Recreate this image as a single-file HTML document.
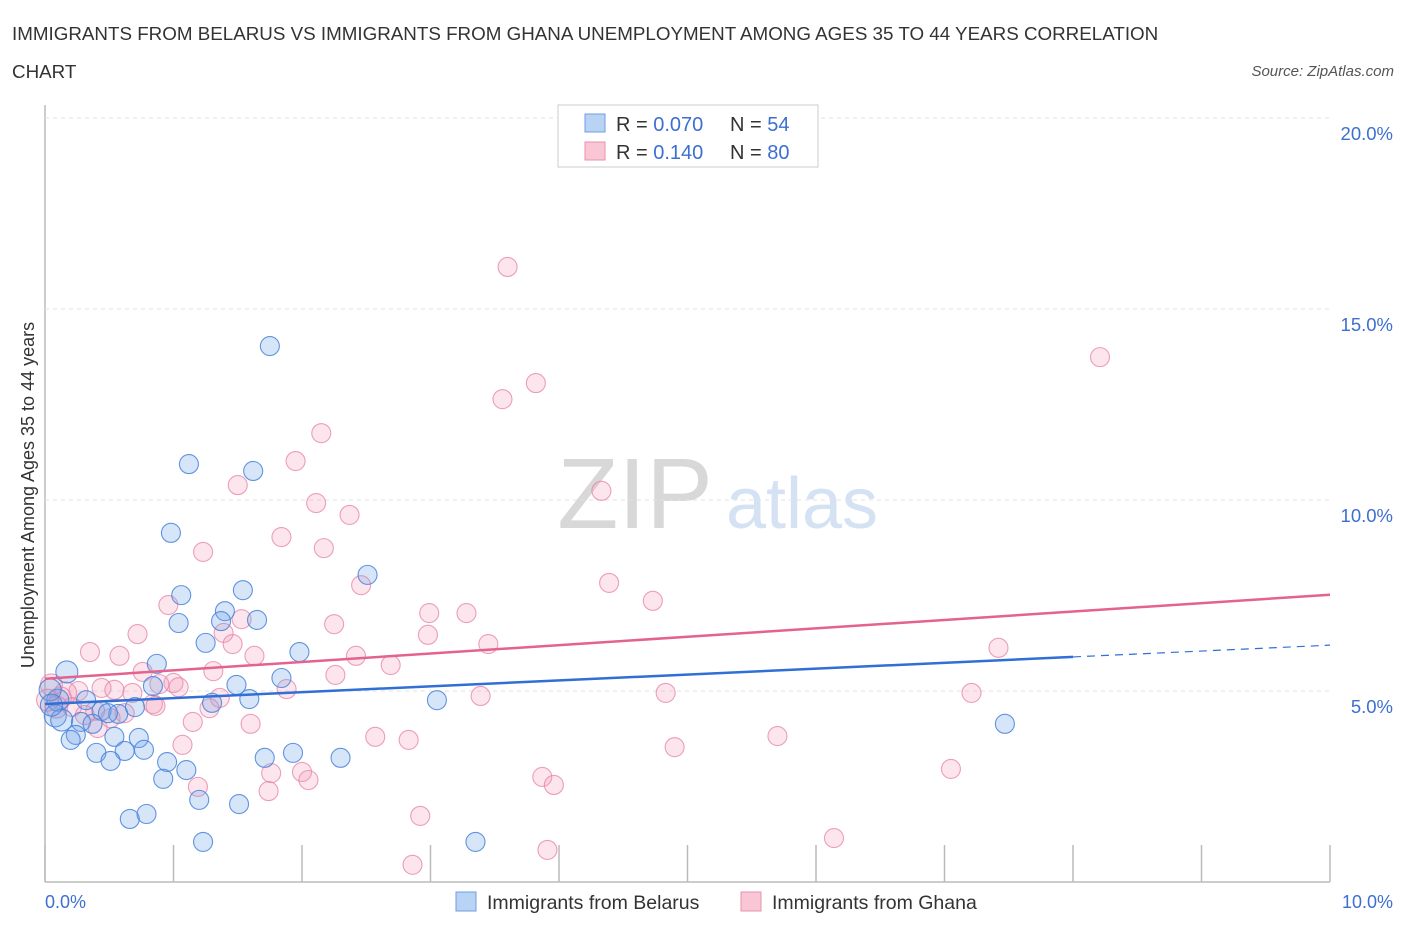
<!DOCTYPE html>
<html><head><meta charset="utf-8"><style>
body{margin:0;background:#fff;font-family:"Liberation Sans",sans-serif;}
svg text{font-family:"Liberation Sans",sans-serif;}
</style></head><body>
<svg id="chart" width="1406" height="930">
<text x="12" y="40" font-size="18.8" fill="#333">IMMIGRANTS FROM BELARUS VS IMMIGRANTS FROM GHANA UNEMPLOYMENT AMONG AGES 35 TO 44 YEARS CORRELATION</text>
<text x="12" y="78" font-size="18.8" fill="#333">CHART</text>
<text x="1394" y="76" font-size="15" fill="#555" font-style="italic" text-anchor="end">Source: ZipAtlas.com</text>
<text x="635" y="528" font-size="100" fill="#d8d8d8" font-family="Liberation Serif" text-anchor="middle">ZIP</text>
<text x="802" y="528" font-size="72" fill="#d5e2f3" text-anchor="middle">atlas</text>
<g id="grid"></g>
<g id="marks"></g>
<g id="lines"></g>
<text transform="translate(34,495) rotate(-90)" font-size="18" fill="#333" text-anchor="middle">Unemployment Among Ages 35 to 44 years</text>
<text x="45" y="908" font-size="18" fill="#3d6fd1">0.0%</text>
<text x="1393" y="908" font-size="18" fill="#3d6fd1" text-anchor="end">10.0%</text>
<g>
<rect x="558" y="105" width="260" height="62" fill="#fff" stroke="#ccc"/>
<rect x="585" y="114" width="20" height="18" fill="#b9d3f5" stroke="#6f9de0"/>
<rect x="585" y="142" width="20" height="18" fill="#f9c6d6" stroke="#e891ac"/>
<text x="616" y="131" font-size="20" fill="#333">R = <tspan fill="#3d6fd1">0.070</tspan><tspan x="730">N = </tspan><tspan fill="#3d6fd1">54</tspan></text>
<text x="616" y="159" font-size="20" fill="#333">R = <tspan fill="#3d6fd1"> 0.140</tspan><tspan x="730">N = </tspan><tspan fill="#3d6fd1">80</tspan></text>
</g>
<g>
<rect x="456" y="892" width="20" height="19" fill="#b9d3f5" stroke="#6f9de0"/>
<text x="487" y="909" font-size="19.5" fill="#333">Immigrants from Belarus</text>
<rect x="741" y="892" width="20" height="19" fill="#f9c6d6" stroke="#e891ac"/>
<text x="772" y="909" font-size="19.5" fill="#333">Immigrants from Ghana</text>
</g>
</svg>
<script>
const yTicks=[5,10,15,20];
const yTickLabels=["5.0%","10.0%","15.0%","20.0%"];
const xTicks=[0,1,2,3,4,5,6,7,8,9,10];
const belarusX=[1.75,1.12,1.62,0.98,2.51,1.06,1.54,1.40,1.04,1.37,1.65,1.25,1.98,0.87,0.17,0.84,1.84,1.49,1.30,1.59,3.05,0.32,0.44,0.57,0.49,0.70,0.10,0.08,0.13,0.28,0.37,0.24,0.20,0.54,0.73,0.40,0.62,0.77,0.51,0.95,1.10,1.71,1.93,2.30,0.92,1.20,1.51,0.66,0.79,1.23,3.35,7.47,0.04,0.05];
const belarusY=[14.03,10.94,10.76,9.14,8.04,7.51,7.64,7.09,6.78,6.83,6.86,6.26,6.02,5.71,5.50,5.13,5.34,5.16,4.69,4.79,4.76,4.76,4.48,4.40,4.42,4.58,4.76,4.35,4.24,4.19,4.14,3.85,3.72,3.80,3.77,3.38,3.43,3.46,3.17,3.14,2.93,3.25,3.38,3.25,2.70,2.15,2.04,1.65,1.78,1.05,1.05,4.14,5.03,4.63];
const ghanaX=[3.60,8.21,3.82,3.56,2.15,1.95,1.50,4.33,2.11,2.37,1.23,1.84,2.17,2.46,4.39,0.96,4.73,2.99,3.28,1.53,0.72,1.39,2.25,2.98,3.45,1.46,0.35,0.58,1.63,2.42,1.31,0.76,2.69,2.26,1.00,1.04,0.89,0.44,0.26,0.54,0.68,1.88,1.36,3.39,4.83,7.21,7.42,0.84,0.86,0.16,0.21,0.12,0.39,0.62,1.15,1.60,1.28,0.41,2.57,2.83,1.07,4.90,5.70,1.76,2.00,2.05,1.19,1.74,3.87,3.96,7.05,2.92,6.14,2.86,3.91,0.05,0.09,0.02,0.31,0.51];
const ghanaY=[16.10,13.74,13.06,12.64,11.75,11.02,10.39,10.24,9.92,9.61,8.64,9.03,8.74,7.77,7.83,7.25,7.36,7.04,7.04,6.88,6.49,6.52,6.75,6.47,6.23,6.23,6.02,5.92,5.92,5.92,5.52,5.50,5.68,5.42,5.21,5.10,5.18,5.08,5.00,5.03,4.95,5.05,4.82,4.87,4.95,4.95,6.13,4.66,4.61,4.95,4.58,4.82,4.48,4.42,4.19,4.14,4.55,4.03,3.80,3.72,3.59,3.53,3.82,2.85,2.88,2.67,2.49,2.38,2.75,2.54,2.96,1.73,1.15,0.45,0.84,5.16,4.58,4.76,4.37,4.29];
const belarusTrend=[4.66,6.20];
const ghanaTrend=[5.32,7.52];
const X=v=>45+v*128.5, Y=v=>882-v*38.2;
const NS="http://www.w3.org/2000/svg";
function mk(tag,attrs,parent){const e=document.createElementNS(NS,tag);for(const k in attrs)e.setAttribute(k,attrs[k]);parent.appendChild(e);return e;}
const grid=document.getElementById('grid'),marks=document.getElementById('marks'),lines=document.getElementById('lines');
let ax=mk('line',{x1:45,y1:105,x2:45,y2:882,stroke:'#bbb','stroke-width':1.5},grid);


let bx=mk('line',{x1:45,y1:882,x2:1330,y2:882,stroke:'#bbb','stroke-width':1.5},grid);


yTicks.forEach((t,i)=>{
 const g=mk('line',{x1:45,y1:Y(t),x2:1330,y2:Y(t),stroke:'#e2e2e2','stroke-dasharray':'4,4'},grid);
 
 
 const tx=mk('text',{x:1393,y:Y(t)+22,'font-size':18.5,fill:'#3d6fd1','text-anchor':'end'},grid);
 tx.textContent=yTickLabels[i];
 
 
});
xTicks.forEach(t=>{
 const l=mk('line',{x1:X(t),y1:845,x2:X(t),y2:882,stroke:'#bbb','stroke-width':1.5},grid);
 
 
});
function dots(xs,ys,fill,stroke,name){
 xs.forEach((x,i)=>{
  const r=(x<0.2)?11:9.5;
  const c=mk('circle',{cx:X(x),cy:Y(ys[i]),r:r,fill:fill,stroke:stroke,'stroke-width':1.1},marks);
  
  
 });
}
dots(ghanaX,ghanaY,'rgba(244,150,180,0.25)','rgba(230,130,165,0.75)','ghana-point');
dots(belarusX,belarusY,'rgba(110,160,230,0.28)','rgba(70,130,220,0.85)','belarus-point');
const xs=8;
let bl=mk('line',{x1:X(0),y1:Y(belarusTrend[0]),x2:X(xs),y2:Y(belarusTrend[0]+(belarusTrend[1]-belarusTrend[0])*xs/10),stroke:'#2f6fd6','stroke-width':2.5},lines);


let bd=mk('line',{x1:X(xs),y1:Y(belarusTrend[0]+(belarusTrend[1]-belarusTrend[0])*xs/10),x2:X(10),y2:Y(belarusTrend[1]),stroke:'#2f6fd6','stroke-width':1.2,'stroke-dasharray':'8,6'},lines);


let gl=mk('line',{x1:X(0),y1:Y(ghanaTrend[0]),x2:X(10),y2:Y(ghanaTrend[1]),stroke:'#e3628e','stroke-width':2.5},lines);


</script>
</body></html>
